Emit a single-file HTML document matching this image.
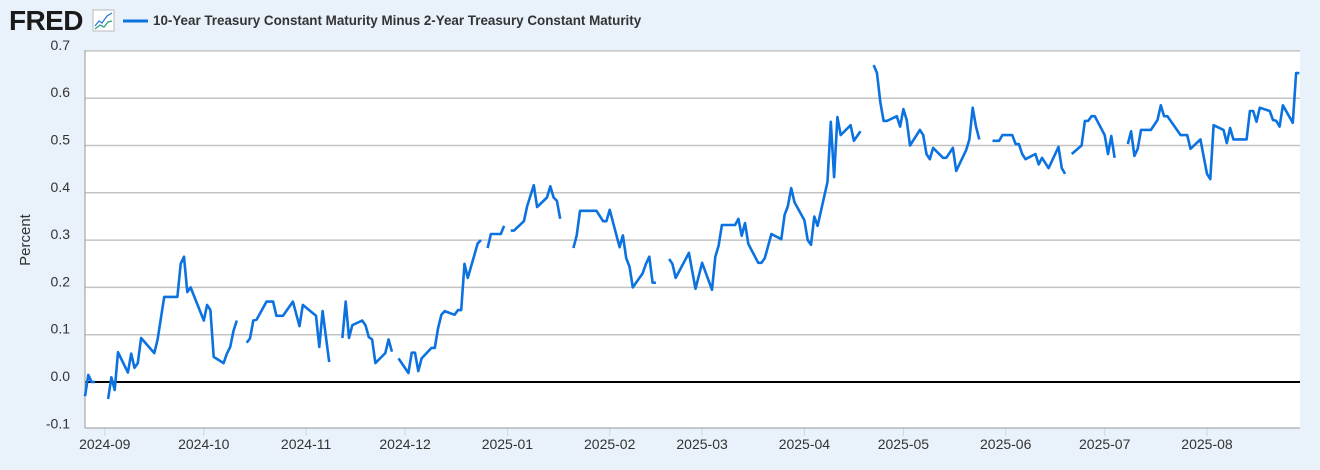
<!DOCTYPE html>
<html><head><meta charset="utf-8"><style>
body{margin:0;background:#e9f1fa;width:1320px;height:465px;overflow:hidden;font-family:"Liberation Sans",sans-serif}
</style></head><body>
<svg width="1320" height="465" id="svg" xmlns="http://www.w3.org/2000/svg">
<rect width="1320" height="465" fill="#e9f1fa"/>
<text x="9" y="30" font-size="28" font-weight="bold" fill="#1a1a1a" letter-spacing="-0.6">FRED</text>
<g>
<rect x="93" y="10" width="21" height="21" fill="#fff" stroke="#bbb"/>
<polyline points="95,26 99,21 102,23 107,16 112,13" fill="none" stroke="#2b7bd6" stroke-width="1.3"/>
<polyline points="95,29 100,25 104,27 108,22 112,21" fill="none" stroke="#2aa37a" stroke-width="1.3"/>
</g>
<line x1="123" y1="21" x2="148" y2="21" stroke="#0b72e0" stroke-width="3"/>
<text x="153" y="25" font-size="13.4" font-weight="bold" fill="#333">10-Year Treasury Constant Maturity Minus 2-Year Treasury Constant Maturity</text>
<rect x="85" y="50" width="1215" height="378" fill="#fff"/>
<g id="grid"></g>
<line x1="85" y1="50" x2="85" y2="428" stroke="#999"/>
<line x1="85" y1="428" x2="1300" y2="428" stroke="#999"/>
<text x="30" y="240" font-size="15" fill="#333" text-anchor="middle" transform="rotate(-90 30 240)">Percent</text>
<g id="series"></g>
</svg>
<script>
const yTicks=[-0.1,0,0.1,0.2,0.3,0.4,0.5,0.6,0.7];
const yTickLabels=["-0.1","0.0","0.1","0.2","0.3","0.4","0.5","0.6","0.7"];
const xTickDays=[6,36,67,97,128,159,187,218,248,279,309,340];
const xTickLabels=["2024-09","2024-10","2024-11","2024-12","2025-01","2025-02","2025-03","2025-04","2025-05","2025-06","2025-07","2025-08"];
const days=[0,1,2,3,null,7,8,9,10,13,14,15,16,17,21,22,24,28,29,30,31,32,36,37,38,39,42,43,44,45,46,null,
49,50,51,52,55,57,58,60,63,65,66,70,71,72,74,null,
78,79,80,81,84,85,86,87,88,91,92,93,null,
95,98,99,100,101,102,105,106,107,108,109,112,113,114,115,116,119,120,null,
122,123,126,127,null,
129,130,133,134,136,137,140,141,142,143,144,null,
148,149,150,155,157,158,159,162,163,164,165,166,169,170,171,172,173,null,
177,178,179,183,185,187,190,191,192,193,197,198,199,200,201,204,205,206,208,211,212,213,214,215,218,219,220,221,222,225,226,227,228,229,232,233,235,null,
239,240,241,242,243,246,247,248,249,250,253,254,255,256,257,260,261,263,264,267,268,269,270,271,null,
275,277,278,281,282,283,284,285,288,289,290,292,295,296,297,null,
299,302,303,304,305,306,309,310,311,312,null,
316,317,318,319,320,323,325,326,327,328,332,334,335,338,340,341,342,345,346,347,348,352,353,354,355,356,359,360,361,362,363,366,367,368];
const values=[-0.03,0.015,0,0,null,-0.036,0.01,-0.017,0.063,0.02,0.06,0.03,0.04,0.093,0.061,0.09,0.18,0.18,0.25,0.265,0.19,0.2,0.13,0.163,0.152,0.053,0.04,0.06,0.074,0.108,0.13,null,
0.083,0.092,0.13,0.132,0.17,0.17,0.14,0.14,0.17,0.118,0.163,0.14,0.074,0.15,0.042,null,
0.093,0.17,0.093,0.12,0.13,0.12,0.095,0.09,0.04,0.061,0.09,0.064,null,
0.05,0.019,0.062,0.062,0.023,0.05,0.072,0.072,0.114,0.142,0.15,0.142,0.152,0.152,0.25,0.22,0.293,0.3,null,
0.283,0.313,0.313,0.33,null,
0.32,0.32,0.34,0.372,0.416,0.37,0.39,0.414,0.39,0.383,0.345,null,
0.283,0.31,0.362,0.362,0.34,0.34,0.364,0.285,0.31,0.262,0.244,0.2,0.23,0.25,0.265,0.21,0.21,null,
0.26,0.25,0.22,0.273,0.197,0.252,0.195,0.265,0.288,0.332,0.332,0.345,0.309,0.336,0.292,0.252,0.252,0.262,0.313,0.302,0.353,0.372,0.41,0.38,0.342,0.3,0.29,0.35,0.33,0.423,0.55,0.433,0.56,0.522,0.543,0.51,0.53,null,
0.67,0.653,0.592,0.552,0.552,0.562,0.54,0.577,0.554,0.5,0.533,0.522,0.482,0.471,0.495,0.474,0.474,0.495,0.446,0.49,0.513,0.58,0.54,0.513,null,
0.51,0.51,0.522,0.522,0.503,0.503,0.482,0.471,0.482,0.46,0.474,0.452,0.497,0.452,0.44,null,
0.482,0.5,0.552,0.552,0.562,0.562,0.522,0.482,0.52,0.474,null,
0.503,0.53,0.478,0.493,0.533,0.533,0.554,0.585,0.562,0.562,0.522,0.522,0.493,0.513,0.44,0.429,0.543,0.533,0.505,0.537,0.513,0.513,0.573,0.573,0.55,0.58,0.573,0.554,0.552,0.54,0.585,0.548,0.653,0.653];
const NS="http://www.w3.org/2000/svg";
function xs(d){return 85+d*3.3;}
function ys(v){return 382-v*473;}
const grid=document.getElementById('grid');
yTicks.forEach((t,i)=>{
  const y=ys(t);
  if(t!==0 && t>-0.1){const l=document.createElementNS(NS,'line');
    l.setAttribute('x1',85);l.setAttribute('x2',1300);l.setAttribute('y1',y);l.setAttribute('y2',y);
    l.setAttribute('stroke','#c3c3c3');l.setAttribute('stroke-width','1.5');
    
    
    grid.appendChild(l);}
  const tx=document.createElementNS(NS,'text');
  tx.setAttribute('x',70);tx.setAttribute('y',y-1);tx.setAttribute('text-anchor','end');
  tx.setAttribute('font-size','14');tx.setAttribute('fill','#333');
  tx.textContent=yTickLabels[i];
  
  
  grid.appendChild(tx);
});
xTickDays.forEach((d,i)=>{
  const x=xs(d);
  const l=document.createElementNS(NS,'line');
  l.setAttribute('x1',x);l.setAttribute('x2',x);l.setAttribute('y1',428);l.setAttribute('y2',436);
  l.setAttribute('stroke','#c8d8ec');
  
  
  grid.appendChild(l);
  const tx=document.createElementNS(NS,'text');
  tx.setAttribute('x',x);tx.setAttribute('y',449);tx.setAttribute('text-anchor','middle');
  tx.setAttribute('font-size','14');tx.setAttribute('fill','#333');
  tx.textContent=xTickLabels[i];
  
  
  grid.appendChild(tx);
});
const zero=document.createElementNS(NS,'line');
zero.setAttribute('x1',85);zero.setAttribute('x2',1300);zero.setAttribute('y1',ys(0));zero.setAttribute('y2',ys(0));
zero.setAttribute('stroke','#000');zero.setAttribute('stroke-width','2');


grid.appendChild(zero);
let d='',pen=false;
for(let i=0;i<days.length;i++){
  if(days[i]===null||values[i]===null){pen=false;continue;}
  d+=(pen?'L':'M')+xs(days[i]).toFixed(1)+','+ys(values[i]).toFixed(1);pen=true;
}
const p=document.createElementNS(NS,'path');
p.setAttribute('d',d);p.setAttribute('fill','none');p.setAttribute('stroke','#0b72e0');
p.setAttribute('stroke-width','2.6');p.setAttribute('stroke-linejoin','round');


document.getElementById('series').appendChild(p);
</script>
</body></html>
